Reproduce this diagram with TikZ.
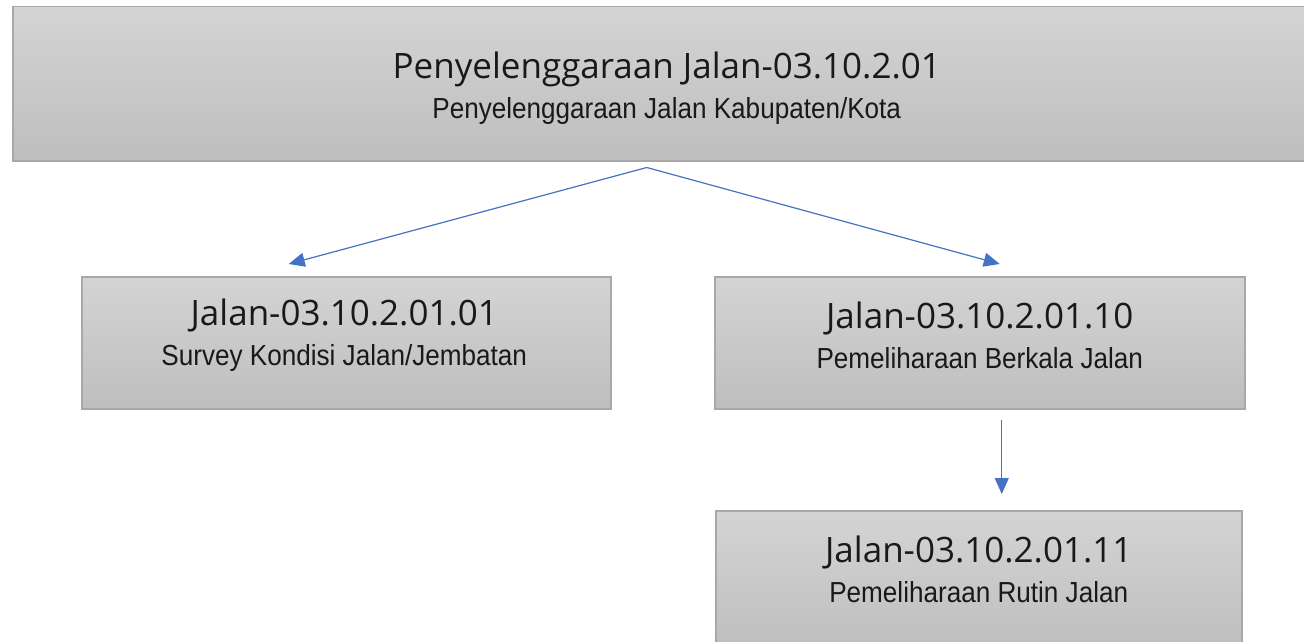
\documentclass[tikz,border=0pt]{standalone}
\usepackage{fontspec}
\usepackage{tikz}
\usetikzlibrary{arrows.meta}

\newfontfamily\codefont{Open Sans}
\newfontfamily\namefont[FakeStretch=0.9]{Liberation Sans}
\definecolor{boxtop}{HTML}{D4D4D4}
\definecolor{boxbot}{HTML}{BEBEBE}
\definecolor{boxline}{HTML}{A8A8A8}
\definecolor{linkblue}{HTML}{4472C4}

\begin{document}
\begin{tikzpicture}[x=1pt,y=-1pt,
        unitbox/.style={draw=boxline, line width=1.5pt, top color=boxtop, bottom color=boxbot,
            anchor=north west, inner sep=0pt},
        unittext/.style={align=center, text=black!90, inner sep=0pt,
            font=\codefont\fontsize{35}{40}\selectfont},
        link/.style={draw=linkblue, line width=1.2pt, -{Triangle[length=16pt,width=14pt]}}]
        \clip (0,0) rectangle (1304,642);

        % Draw the boxes
        \node[unitbox, minimum width=1308pt, minimum height=154pt] (jalan) at (12,6) {};
        \node[unitbox, minimum width=529pt, minimum height=132pt] (survey) at (81,276) {};
        \node[unitbox, minimum width=530pt, minimum height=132pt] (berkala) at (714,276) {};
        \node[unitbox, minimum width=526pt, minimum height=140pt] (rutin) at (715,510) {};

        % Labels
        \node[unittext] (jalantext) at ([yshift=-82.7pt]jalan.north)
            {Penyelenggaraan Jalan-03.10.2.01\\{\namefont\fontsize{29}{40}\selectfont Penyelenggaraan Jalan Kabupaten/Kota}};
        \node[unittext] (surveytext) at ([xshift=-2pt,yshift=-59.5pt]survey.north)
            {Jalan-03.10.2.01.01\\{\namefont\fontsize{29}{40}\selectfont Survey Kondisi Jalan/Jembatan}};
        \node[unittext] (berkalatext) at ([yshift=-59.5pt]berkala.north)
            {Jalan-03.10.2.01.10\\{\namefont\fontsize{29}{40}\selectfont Pemeliharaan Berkala Jalan}};
        \node[unittext] (rutintext) at ([yshift=-59.5pt]rutin.north)
            {Jalan-03.10.2.01.11\\{\namefont\fontsize{29}{40}\selectfont Pemeliharaan Rutin Jalan}};

        % Arrows
        \draw[link] ([xshift=-20pt,yshift=-6pt]jalan.south) -- ([xshift=-57.5pt,yshift=12pt]survey.north);
        \draw[link] ([xshift=-20pt,yshift=-6pt]jalan.south) -- ([xshift=20pt,yshift=12pt]berkala.north);
        \draw[link] ([xshift=22pt,yshift=-10pt]berkala.south) -- ([xshift=23pt,yshift=16pt]rutin.north);
    \end{tikzpicture}
\end{document}
